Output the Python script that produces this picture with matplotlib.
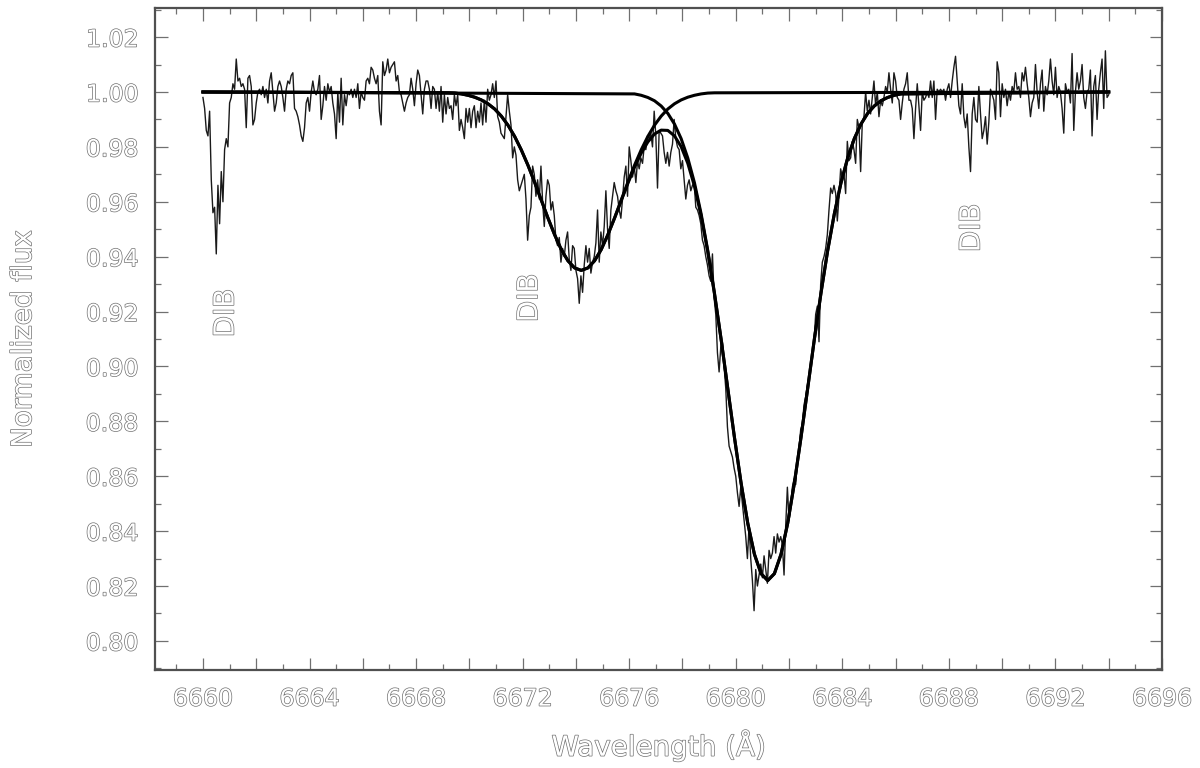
import numpy as np
import matplotlib
matplotlib.use("Agg")
import matplotlib.pyplot as plt
import matplotlib.patheffects as pe
from matplotlib.ticker import MultipleLocator, FuncFormatter

flux = [
    0.998, 0.994, 0.986, 0.984, 0.993, 0.968, 0.956, 0.958, 0.941, 0.966, 0.952, 0.971, 0.960, 0.979, 0.983, 0.980,  # 6660
    0.996, 0.998, 1.003, 1.001, 1.012, 1.004, 1.005, 1.002, 1.003, 1.001, 0.987, 1.005, 1.006, 1.002, 0.988, 0.990,  # 6661
    0.996, 1.000, 1.001, 0.999, 1.002, 0.998, 1.001, 0.996, 1.004, 1.007, 1.000, 0.993, 0.996, 1.002, 1.004, 1.002,  # 6662
    0.998, 0.993, 1.001, 1.004, 1.003, 1.006, 1.007, 0.994, 0.993, 0.991, 0.988, 0.984, 0.982, 0.987, 0.996, 0.998,  # 6663
    0.993, 1.000, 1.004, 1.000, 0.999, 1.001, 1.006, 0.990, 0.995, 1.002, 0.997, 1.003, 1.000, 1.002, 0.996, 0.992,  # 6664
    0.983, 1.000, 0.989, 1.005, 0.988, 0.999, 0.995, 1.000, 0.999, 1.001, 0.998, 1.001, 0.998, 1.003, 0.994, 1.000,  # 6665
    0.998, 0.997, 1.004, 1.005, 1.003, 1.009, 1.008, 1.005, 1.003, 1.006, 0.993, 0.988, 1.011, 1.006, 1.008, 1.012,  # 6666
    1.007, 1.009, 1.010, 1.011, 1.004, 1.006, 1.000, 0.999, 0.996, 0.993, 0.996, 0.998, 0.999, 1.005, 1.001, 0.995,  # 6667
    1.003, 1.008, 1.006, 0.999, 0.992, 1.001, 1.004, 1.004, 1.001, 0.994, 1.002, 1.001, 0.994, 1.000, 0.993, 1.002,  # 6668
    0.989, 0.999, 0.992, 0.998, 0.994, 0.995, 0.990, 0.999, 0.995, 0.999, 0.986, 0.990, 0.987, 0.983, 0.994, 0.989,  # 6669
    0.994, 0.987, 0.993, 0.995, 0.987, 0.993, 0.989, 0.996, 0.988, 0.997, 0.989, 1.001, 0.997, 0.999, 1.003, 0.998,  # 6670
    1.004, 0.991, 0.989, 0.985, 0.984, 0.983, 0.991, 0.999, 0.993, 0.988, 0.976, 0.980, 0.977, 0.968, 0.964, 0.966,  # 6671
    0.968, 0.970, 0.961, 0.946, 0.955, 0.958, 0.973, 0.970, 0.962, 0.968, 0.961, 0.973, 0.960, 0.951, 0.962, 0.968,  # 6672
    0.966, 0.957, 0.960, 0.955, 0.946, 0.944, 0.947, 0.938, 0.943, 0.940, 0.946, 0.949, 0.939, 0.935, 0.944, 0.943,  # 6673
    0.935, 0.932, 0.923, 0.933, 0.927, 0.937, 0.944, 0.938, 0.943, 0.934, 0.938, 0.940, 0.945, 0.957, 0.938, 0.949,  # 6674
    0.944, 0.951, 0.964, 0.950, 0.943, 0.957, 0.962, 0.967, 0.964, 0.962, 0.957, 0.954, 0.961, 0.969, 0.973, 0.962,  # 6675
    0.980, 0.975, 0.969, 0.973, 0.967, 0.975, 0.972, 0.976, 0.974, 0.980, 0.979, 0.984, 0.983, 0.985, 0.980, 0.993,  # 6676
    0.984, 0.965, 0.986, 0.985, 0.984, 0.978, 0.974, 0.978, 0.973, 0.978, 0.981, 0.990, 0.983, 0.980, 0.979, 0.972,  # 6677
    0.975, 0.968, 0.961, 0.966, 0.968, 0.964, 0.966, 0.967, 0.958, 0.957, 0.955, 0.952, 0.946, 0.944, 0.940, 0.937,  # 6678
    0.933, 0.931, 0.941, 0.925, 0.919, 0.905, 0.898, 0.907, 0.909, 0.900, 0.892, 0.878, 0.871, 0.869, 0.867, 0.863,  # 6679
    0.860, 0.854, 0.849, 0.856, 0.850, 0.844, 0.838, 0.830, 0.842, 0.830, 0.822, 0.811, 0.826, 0.820, 0.824, 0.828,  # 6680
    0.823, 0.831, 0.826, 0.821, 0.833, 0.830, 0.832, 0.838, 0.832, 0.839, 0.836, 0.838, 0.835, 0.824, 0.842, 0.856,  # 6681
    0.844, 0.849, 0.856, 0.859, 0.857, 0.866, 0.870, 0.877, 0.879, 0.886, 0.889, 0.893, 0.896, 0.901, 0.903, 0.909,  # 6682
    0.919, 0.922, 0.909, 0.930, 0.938, 0.940, 0.943, 0.948, 0.957, 0.965, 0.963, 0.966, 0.963, 0.953, 0.962, 0.972,  # 6683
    0.969, 0.970, 0.963, 0.982, 0.975, 0.976, 0.982, 0.979, 0.974, 0.990, 0.987, 0.971, 0.989, 0.991, 1.000, 0.993,  # 6684
    0.997, 0.992, 0.998, 1.004, 0.995, 1.000, 0.991, 0.997, 0.995, 0.998, 1.002, 1.000, 1.007, 1.001, 0.996, 1.007,  # 6685
    1.004, 0.998, 0.997, 0.990, 0.996, 1.001, 1.003, 1.007, 0.997, 0.997, 0.994, 0.983, 0.994, 1.003, 0.995, 0.986,  # 6686
    1.000, 0.997, 0.998, 1.000, 0.998, 1.004, 0.998, 1.004, 0.990, 1.001, 1.000, 1.001, 1.000, 1.001, 0.997, 1.001,  # 6687
    1.003, 0.998, 1.004, 1.009, 1.013, 1.004, 0.995, 0.992, 1.003, 0.991, 0.987, 0.992, 0.980, 0.971, 0.992, 0.998,  # 6688
    0.990, 0.989, 1.002, 0.992, 0.983, 0.986, 0.991, 0.981, 0.989, 1.001, 0.999, 0.997, 0.990, 1.011, 1.007, 0.991,  # 6689
    1.003, 0.998, 1.001, 0.995, 1.000, 0.997, 1.002, 1.000, 1.007, 1.001, 1.002, 0.998, 1.007, 1.004, 1.009, 1.003,  # 6690
    0.998, 0.991, 0.996, 0.998, 1.010, 1.000, 0.994, 1.003, 1.008, 0.993, 1.002, 0.999, 1.004, 1.012, 1.004, 0.999,  # 6691
    1.009, 0.998, 1.002, 1.000, 0.994, 0.985, 1.003, 1.000, 1.001, 0.996, 1.014, 0.986, 1.000, 1.007, 1.001, 1.004,  # 6692
    1.010, 0.998, 0.994, 1.000, 1.001, 1.008, 0.984, 1.002, 1.006, 0.990, 1.001, 1.007, 1.012, 0.994, 1.015, 0.998,  # 6693
    0.999,
]
wl = 6660 + np.arange(len(flux)) / 16.0

# gaussian fit components, sampled every 0.25 A across each line
comp1_wl = np.concatenate([[6660.0], np.linspace(6669.2, 6679.2, 41), [6694.0]])
comp1_half = [0.9997, 0.9996, 0.9993, 0.9988, 0.9981, 0.9971, 0.9957, 0.9938, 0.9912, 0.9879,
              0.9838, 0.9789, 0.9733, 0.9671, 0.9606, 0.9541, 0.9480, 0.9426, 0.9385, 0.9359]
comp1_flux = [1.0] + comp1_half + [0.9350] + comp1_half[::-1] + [1.0]

comp2_wl = np.concatenate([[6660.0], np.linspace(6676.2, 6686.2, 41), [6694.0]])
comp2_half = [0.9993, 0.9988, 0.9980, 0.9968, 0.9949, 0.9922, 0.9883, 0.9830, 0.9759, 0.9669,
              0.9556, 0.9422, 0.9268, 0.9099, 0.8920, 0.8742, 0.8575, 0.8429, 0.8316, 0.8245]
comp2_flux = [1.0] + comp2_half + [0.8220] + comp2_half[::-1] + [1.0]

# combined fit
total_wl = np.concatenate([[6660.0], np.linspace(6669.2, 6686.2, 69), [6694.0]])
total_flux = [1.0] + comp1_half + [0.9350] + [
    0.9359, 0.9385, 0.9426, 0.9480, 0.9540, 0.9604, 0.9667, 0.9726, 0.9777, 0.9818,
    0.9847, 0.9861, 0.9860, 0.9840, 0.9801, 0.9740, 0.9657, 0.9549, 0.9418, 0.9265,
    0.9099, 0.8920, 0.8742, 0.8575, 0.8429, 0.8316, 0.8245] + [0.8220] + comp2_half[::-1] + [1.0]

dib_labels = [(6660.85, 0.9195), (6672.25, 0.9250), (6688.85, 0.9505)]

hollow = [pe.Stroke(linewidth=1.0, foreground="#707070"), pe.Normal()]
txt_col = "white"

fig = plt.figure(figsize=(12, 7.68), dpi=100)
ax = fig.add_axes([155 / 1200, 1 - 670 / 768, (1162 - 155) / 1200, (670 - 8) / 768])

ax.plot(wl, flux, color="#1a1a1a", lw=1.0)
ax.plot(comp1_wl, comp1_flux, color="black", lw=2.2)
ax.plot(comp2_wl, comp2_flux, color="black", lw=2.2)
ax.plot(total_wl, total_flux, color="black", lw=2.2)

for x, y in dib_labels:
    ax.text(x, y, "DIB", rotation=90, ha="center", va="center", fontsize=20,
            color=txt_col, path_effects=hollow)

ax.set_xlim(6658.2, 6696)
ax.set_ylim(0.7894, 1.0306)

ax.xaxis.set_major_locator(MultipleLocator(2))
ax.xaxis.set_minor_locator(MultipleLocator(1))
ax.xaxis.set_major_formatter(FuncFormatter(lambda v, p: f"{v:.0f}" if round(v) % 4 == 0 else ""))
ax.yaxis.set_major_locator(MultipleLocator(0.02))
ax.yaxis.set_minor_locator(MultipleLocator(0.01))
ax.yaxis.set_major_formatter(FuncFormatter(lambda v, p: f"{v:.2f}"))

ax.tick_params(which="both", direction="in", top=True, right=True, color="#707070",
               labelsize=17, labelcolor=txt_col)
ax.tick_params(which="major", length=9, width=0.9, pad=12)
ax.tick_params(which="minor", length=4.5, width=0.9)
for s in ax.spines.values():
    s.set_color("#505050")
    s.set_linewidth(1.6)

ax.set_xlabel("Wavelength (Å)", fontsize=20, color=txt_col, labelpad=13, path_effects=hollow)
ax.set_ylabel("Normalized flux", fontsize=20, color=txt_col, labelpad=35, path_effects=hollow)

fig.canvas.draw()
for lbl in ax.get_xticklabels() + ax.get_yticklabels():
    lbl.set_path_effects(hollow)

fig.savefig("out.png", dpi=100)
